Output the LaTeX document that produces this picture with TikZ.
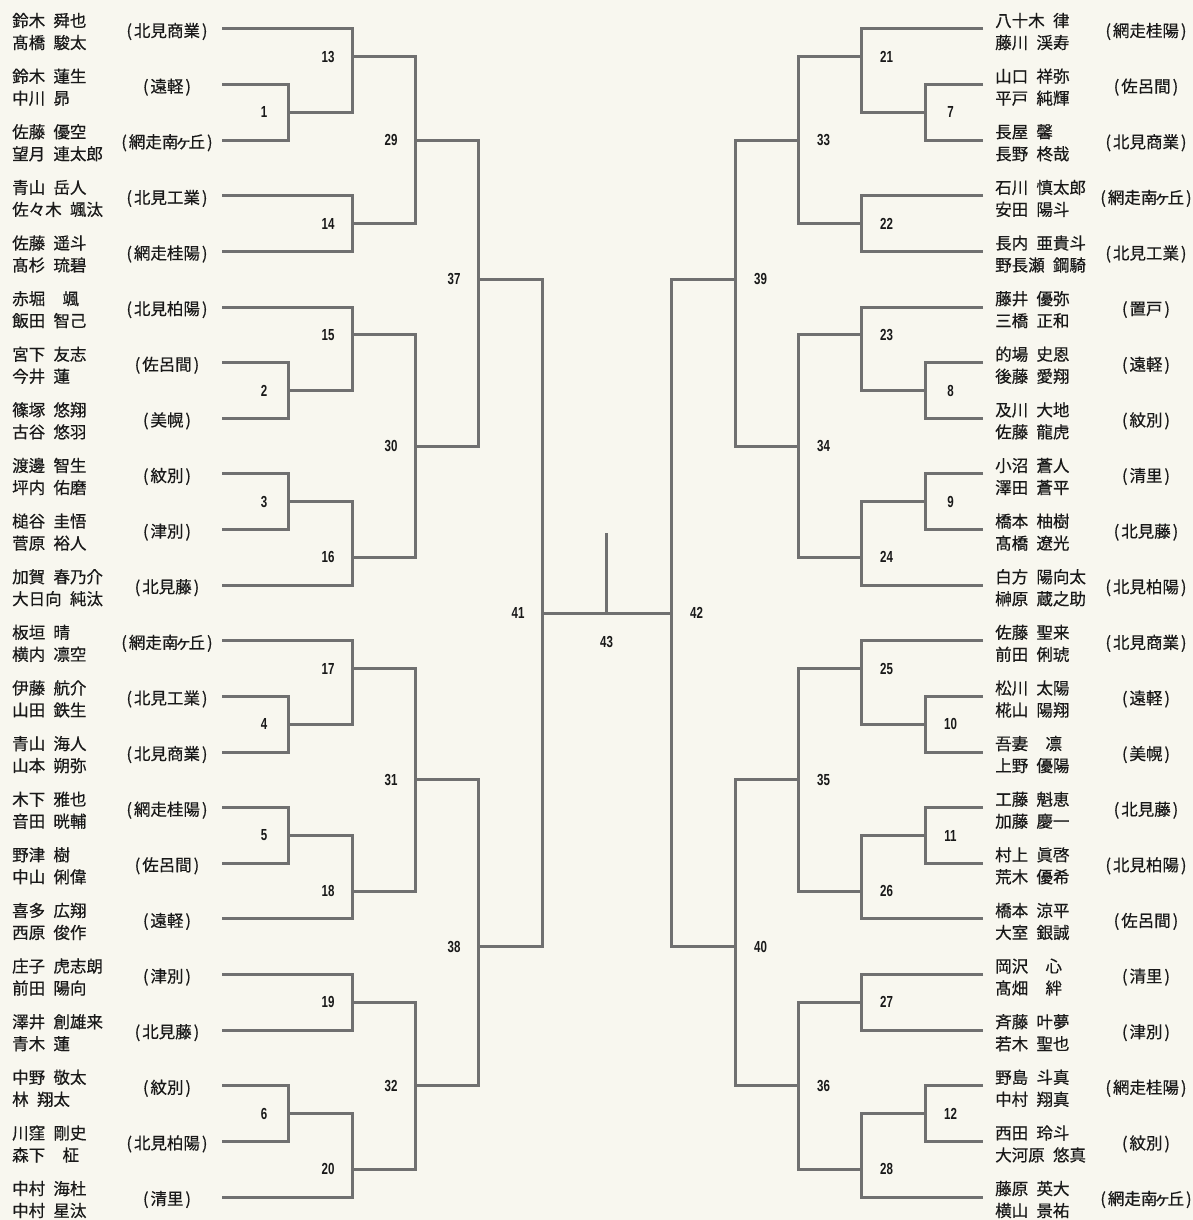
\documentclass[tikz,border=0pt]{standalone}
\usepackage{fontspec}
\setmainfont{Noto Sans CJK JP}[FakeBold=0.45]
\newfontfamily\numfont{Liberation Sans}[FakeStretch=0.72]
\newcommand\gp{\hspace{0.5em}}
\newcommand\gw{\hspace{1.05em}}
\newcommand\ke{\makebox[0.62em]{ヶ}}
\newcommand\sname[1]{(\hspace{0.12em}#1\hspace{0.12em})}
\definecolor{paper}{RGB}{248,247,239}
\definecolor{brline}{RGB}{112,112,112}
\definecolor{ink}{RGB}{25,25,25}
\tikzset{
  br/.style={draw=brline, line width=3pt, line join=miter},
  nm/.style={inner sep=0pt, font=\fontsize{16.5}{20}\selectfont, text=ink},
  sch/.style={inner sep=0pt, font=\fontsize{16.5}{20}\selectfont, text=ink},
  num/.style={inner sep=0pt, font=\numfont\bfseries\fontsize{16}{17}\selectfont, text=ink}
}
\begin{document}
\begin{tikzpicture}[x=1pt,y=-1pt]
\fill[paper] (0,0) rectangle (1193,1220);
\useasboundingbox (0,0) rectangle (1193,1220);
% left entries
\foreach \i/\a/\b/\s in {
 0/{鈴木\gp 舜也}/{髙橋\gp 駿太}/{北見商業},
 1/{鈴木\gp 蓮生}/{中川\gp 昴}/{遠軽},
 2/{佐藤\gp 優空}/{望月\gp 連太郎}/{網走南\ke 丘},
 3/{青山\gp 岳人}/{佐々木\gp 颯汰}/{北見工業},
 4/{佐藤\gp 遥斗}/{髙杉\gp 琉碧}/{網走桂陽},
 5/{赤堀\gw 颯}/{飯田\gp 智己}/{北見柏陽},
 6/{宮下\gp 友志}/{今井\gp 蓮}/{佐呂間},
 7/{篠塚\gp 悠翔}/{古谷\gp 悠羽}/{美幌},
 8/{渡邊\gp 智生}/{坪内\gp 佑磨}/{紋別},
 9/{槌谷\gp 圭悟}/{菅原\gp 裕人}/{津別},
 10/{加賀\gp 春乃介}/{大日向\gp 純汰}/{北見藤},
 11/{板垣\gp 晴}/{横内\gp 凛空}/{網走南\ke 丘},
 12/{伊藤\gp 航介}/{山田\gp 鉄生}/{北見工業},
 13/{青山\gp 海人}/{山本\gp 朔弥}/{北見商業},
 14/{木下\gp 雅也}/{音田\gp 晄輔}/{網走桂陽},
 15/{野津\gp 樹}/{中山\gp 俐偉}/{佐呂間},
 16/{喜多\gp 広翔}/{西原\gp 俊作}/{遠軽},
 17/{庄子\gp 虎志朗}/{前田\gp 陽向}/{津別},
 18/{澤井\gp 創雄来}/{青木\gp 蓮}/{北見藤},
 19/{中野\gp 敬太}/{林\gp 翔太}/{紋別},
 20/{川窪\gp 剛史}/{森下\gw 柾}/{北見柏陽},
 21/{中村\gp 海杜}/{中村\gp 星汰}/{清里}}{
  \pgfmathsetmacro\y{29+55.62*\i}
  \node[nm, anchor=base west] (la\i) at (12,\y-2.2) {\a};
  \node[nm, anchor=base west] (lb\i) at (12,\y+19.8) {\b};
  \node[sch] (ls\i) at (167,\y+2.5) {\sname{\s}};
  \coordinate (lr\i) at (222,\y);
}
% right entries
\foreach \i/\a/\b/\s in {
 0/{八十木\gp 律}/{藤川\gp 渓寿}/{網走桂陽},
 1/{山口\gp 祥弥}/{平戸\gp 純輝}/{佐呂間},
 2/{長屋\gp 馨}/{長野\gp 柊哉}/{北見商業},
 3/{石川\gp 慎太郎}/{安田\gp 陽斗}/{網走南\ke 丘},
 4/{長内\gp 亜貴斗}/{野長瀬\gp 鋼騎}/{北見工業},
 5/{藤井\gp 優弥}/{三橋\gp 正和}/{置戸},
 6/{的場\gp 史恩}/{後藤\gp 愛翔}/{遠軽},
 7/{及川\gp 大地}/{佐藤\gp 龍虎}/{紋別},
 8/{小沼\gp 蒼人}/{澤田\gp 蒼平}/{清里},
 9/{橋本\gp 柚樹}/{髙橋\gp 遼光}/{北見藤},
 10/{白方\gp 陽向太}/{榊原\gp 蔵之助}/{北見柏陽},
 11/{佐藤\gp 聖来}/{前田\gp 俐琥}/{北見商業},
 12/{松川\gp 太陽}/{椛山\gp 陽翔}/{遠軽},
 13/{吾妻\gw 凛}/{上野\gp 優陽}/{美幌},
 14/{工藤\gp 魁恵}/{加藤\gp 慶一}/{北見藤},
 15/{村上\gp 眞啓}/{荒木\gp 優希}/{北見柏陽},
 16/{橋本\gp 涼平}/{大室\gp 銀誠}/{佐呂間},
 17/{岡沢\gw 心}/{髙畑\gw 絆}/{清里},
 18/{斉藤\gp 叶夢}/{若木\gp 聖也}/{津別},
 19/{野島\gp 斗真}/{中村\gp 翔真}/{網走桂陽},
 20/{西田\gp 玲斗}/{大河原\gp 悠真}/{紋別},
 21/{藤原\gp 英大}/{横山\gp 景祐}/{網走南\ke 丘}}{
  \pgfmathsetmacro\y{29+55.62*\i}
  \node[nm, anchor=base west] (ra\i) at (995,\y-2.2) {\a};
  \node[nm, anchor=base west] (rb\i) at (995,\y+19.8) {\b};
  \node[sch] (rs\i) at (1146,\y+2.5) {\sname{\s}};
  \coordinate (rr\i) at (983,\y);
}
% match junctions (left number / mirrored right number)
\foreach \a/\b/\x/\y in {
 1/7/288/112.4, 2/8/288/390.5, 3/9/288/501.8, 4/10/288/724.3, 5/11/288/835.5, 6/12/288/1113.6,
 13/21/352/56.8, 14/22/352/223.7, 15/23/352/334.9, 16/24/352/557.4,
 17/25/352/668.6, 18/26/352/891.1, 19/27/352/1002.4, 20/28/352/1169.2,
 29/33/415/140.2, 30/34/415/446.2, 31/35/415/779.9, 32/36/415/1085.8,
 37/39/478/279.3, 38/40/478/946.7, 41/42/542/613}{
  \coordinate (j\a) at (\x,\y);
  \coordinate (j\b) at (1213.5-\x,\y);
  \node[num] (n\a) at (\x-24,\y) {\a};
  \node[num] (n\b) at (1213.5-\x+25,\y) {\b};
}
% bracket connectors
\foreach \m/\p/\q in {
 1/lr1/lr2, 2/lr6/lr7, 3/lr8/lr9, 4/lr12/lr13, 5/lr14/lr15, 6/lr19/lr20,
 13/lr0/j1, 14/lr3/lr4, 15/lr5/j2, 16/j3/lr10, 17/lr11/j4, 18/j5/lr16, 19/lr17/lr18, 20/j6/lr21,
 29/j13/j14, 30/j15/j16, 31/j17/j18, 32/j19/j20, 37/j29/j30, 38/j31/j32, 41/j37/j38,
 7/rr1/rr2, 8/rr6/rr7, 9/rr8/rr9, 10/rr12/rr13, 11/rr14/rr15, 12/rr19/rr20,
 21/rr0/j7, 22/rr3/rr4, 23/rr5/j8, 24/j9/rr10, 25/rr11/j10, 26/j11/rr16, 27/rr17/rr18, 28/j12/rr21,
 33/j21/j22, 34/j23/j24, 35/j25/j26, 36/j27/j28, 39/j33/j34, 40/j35/j36, 42/j39/j40}{
  \draw[br] (\p) -| (j\m) |- (\q);
}
% final
\coordinate (j43) at (606.5,613);
\coordinate (t43) at (606.5,533);
\draw[br] (j41) -- (j42);
\draw[br] (t43) -- (j43);
\node[num] (n43) at (606.5,642) {43};
\end{tikzpicture}
\end{document}
